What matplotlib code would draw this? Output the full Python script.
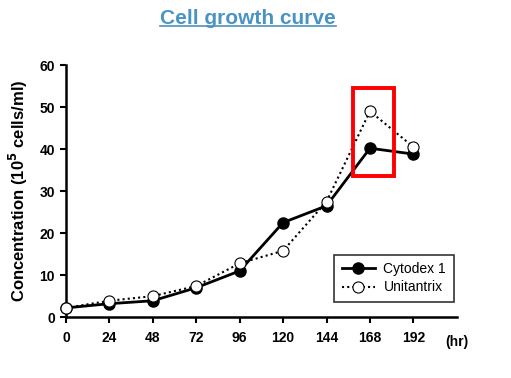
import matplotlib
matplotlib.use("Agg")
import matplotlib.pyplot as plt
from matplotlib.patches import Rectangle
from matplotlib.lines import Line2D

plt.rcParams['font.family'] = ['Liberation Sans', 'DejaVu Sans']

hours = [0, 24, 48, 72, 96, 120, 144, 168, 192]
cytodex = [2.2, 3.2, 3.9, 7.0, 11.0, 22.5, 26.5, 40.2, 38.8]
unitantrix = [2.2, 3.9, 5.0, 7.4, 12.8, 15.8, 27.5, 49.0, 40.5]
x_ticks = [0, 24, 48, 72, 96, 120, 144, 168, 192]
y_ticks = [0, 10, 20, 30, 40, 50, 60]

fig = plt.figure(figsize=(5.11, 3.78), dpi=100)
ax = fig.add_axes([0.129, 0.161, 0.765, 0.667])

ax.plot(hours, cytodex, color="black", linewidth=2, marker="o", markersize=8,
        markerfacecolor="black", label="Cytodex 1", clip_on=False, zorder=3)
ax.plot(hours, unitantrix, color="black", linewidth=1.5, linestyle=(0, (1, 1.5)),
        marker="o", markersize=8, markerfacecolor="white", markeredgewidth=0.8,
        label="Unitantrix", clip_on=False, zorder=4)

# highlight box around the 168 hr point
ax.add_patch(Rectangle((158.4, 33.6), 22.7, 20.9, fill=False, edgecolor="red",
                       linewidth=2.8, zorder=5, clip_on=False))

ax.set_xlim(0, 216)
ax.set_ylim(0, 60)
ax.set_xticks(x_ticks)
ax.set_yticks(y_ticks)
ax.set_xticklabels([str(t) for t in x_ticks], fontsize=10, fontweight="bold")
ax.set_yticklabels([str(t) for t in y_ticks], fontsize=10, fontweight="bold")
ax.tick_params(axis="x", direction="out", length=4, width=1.5, pad=6)
ax.tick_params(axis="y", direction="out", length=4, width=1.5, pad=4)
for s in ["top", "right"]:
    ax.spines[s].set_visible(False)
for s in ["left", "bottom"]:
    ax.spines[s].set_linewidth(1.8)

ax.text(216, -4.2, "(hr)", ha="center", va="top", fontsize=10, fontweight="bold")
ax.set_ylabel("Concentration (10$^{\\mathbf{5}}$ cells/ml)", fontsize=12,
              fontweight="bold", labelpad=7)

leg = ax.legend(loc="lower right", bbox_to_anchor=(0.992, 0.06), borderaxespad=0,
                fontsize=10, frameon=True, fancybox=False, edgecolor="black",
                handlelength=2.4, handletextpad=0.6, borderpad=0.55,
                labelspacing=0.3)
leg.get_frame().set_linewidth(1.2)

title = fig.text(0.485, 0.952, "Cell growth curve", ha="center", va="center",
                 fontsize=15, fontweight="bold", color="#4a94c4")
fig.canvas.draw()
bb = title.get_window_extent().transformed(fig.transFigure.inverted())
fig.add_artist(Line2D([bb.x0, bb.x1], [bb.y0 + 0.004, bb.y0 + 0.004],
                      color="#4a94c4", linewidth=1.2))

fig.savefig("out.png", dpi=100)
